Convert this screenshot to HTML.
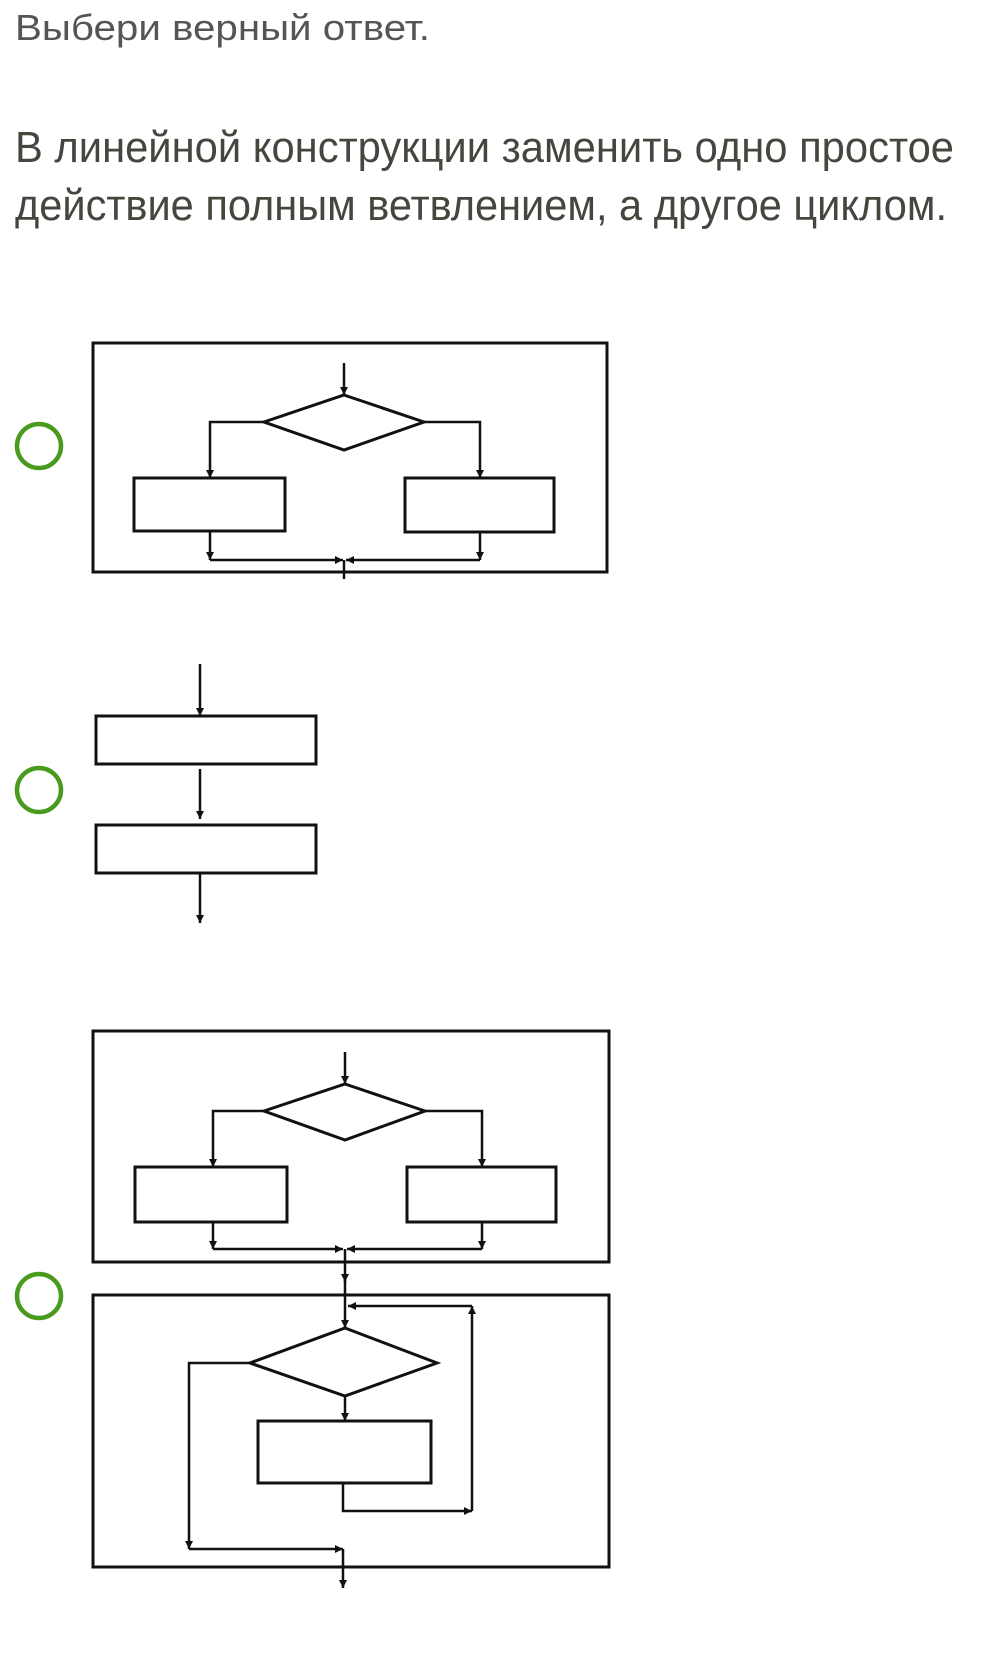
<!DOCTYPE html>
<html><head><meta charset="utf-8"><style>
html,body{margin:0;padding:0;background:#fff;}
svg{display:block;}
</style></head><body>
<svg width="982" height="1670" viewBox="0 0 982 1670" xmlns="http://www.w3.org/2000/svg">
<defs>
<marker id="a" viewBox="0 0 10 10" refX="10" refY="5" markerWidth="9" markerHeight="8" markerUnits="userSpaceOnUse" orient="auto">
<path d="M0,0 L10,5 L0,10 z" fill="#111"/>
</marker>
</defs>
<text x="15" y="40" font-family="'Liberation Sans Narrow','Liberation Sans',sans-serif" font-size="36" fill="#555" textLength="415" lengthAdjust="spacingAndGlyphs">Выбери верный ответ.</text>
<text x="15" y="162" font-family="'Liberation Sans Narrow','Liberation Sans',sans-serif" font-size="44" fill="#46463f" textLength="939" lengthAdjust="spacingAndGlyphs">В линейной конструкции заменить одно простое</text>
<text x="15" y="220" font-family="'Liberation Sans Narrow','Liberation Sans',sans-serif" font-size="44" fill="#46463f" textLength="932" lengthAdjust="spacingAndGlyphs">действие полным ветвлением, а другое циклом.</text>

<g fill="none" stroke="#4a9a1e" stroke-width="4.5">
<circle cx="39" cy="446" r="22"/>
<circle cx="39" cy="790" r="22"/>
<circle cx="39" cy="1296" r="22"/>
</g>

<g fill="none" stroke="#111" stroke-width="3">
<rect x="93" y="343" width="514" height="229"/>
<polygon points="344,395 424,422 344,450 264,422"/>
<rect x="134" y="478" width="151" height="53"/>
<rect x="405" y="478" width="149" height="54"/>
</g>
<g fill="none" stroke="#111" stroke-width="2.5">
<line x1="344" y1="363" x2="344" y2="395" marker-end="url(#a)"/>
<polyline points="264,422 210,422 210,478" marker-end="url(#a)"/>
<polyline points="424,422 480,422 480,478" marker-end="url(#a)"/>
<line x1="210" y1="531" x2="210" y2="560" marker-end="url(#a)"/>
<line x1="480" y1="532" x2="480" y2="560" marker-end="url(#a)"/>
<line x1="210" y1="560" x2="343" y2="560" marker-end="url(#a)"/>
<line x1="480" y1="560" x2="346" y2="560" marker-end="url(#a)"/>
<line x1="344" y1="560" x2="344" y2="579"/>
</g>

<g fill="none" stroke="#111" stroke-width="3">
<rect x="96" y="716" width="220" height="48"/>
<rect x="96" y="825" width="220" height="48"/>
</g>
<g fill="none" stroke="#111" stroke-width="2.5">
<line x1="200" y1="664" x2="200" y2="716" marker-end="url(#a)"/>
<line x1="200" y1="769" x2="200" y2="819" marker-end="url(#a)"/>
<line x1="200" y1="873" x2="200" y2="923" marker-end="url(#a)"/>
</g>

<g fill="none" stroke="#111" stroke-width="3">
<rect x="93" y="1031" width="516" height="231"/>
<polygon points="345,1084 425,1111 345,1140 264,1111"/>
<rect x="135" y="1167" width="152" height="55"/>
<rect x="407" y="1167" width="149" height="55"/>
<rect x="93" y="1295" width="516" height="272"/>
<polygon points="345,1328 437,1363 345,1396 250,1363"/>
<rect x="258" y="1421" width="173" height="62"/>
</g>
<g fill="none" stroke="#111" stroke-width="2.5">
<line x1="345" y1="1052" x2="345" y2="1084" marker-end="url(#a)"/>
<polyline points="264,1111 213,1111 213,1167" marker-end="url(#a)"/>
<polyline points="425,1111 482,1111 482,1167" marker-end="url(#a)"/>
<line x1="213" y1="1222" x2="213" y2="1249" marker-end="url(#a)"/>
<line x1="482" y1="1222" x2="482" y2="1249" marker-end="url(#a)"/>
<line x1="213" y1="1249" x2="343" y2="1249" marker-end="url(#a)"/>
<line x1="482" y1="1249" x2="347" y2="1249" marker-end="url(#a)"/>
<line x1="345" y1="1249" x2="345" y2="1282" marker-end="url(#a)"/>
<line x1="345" y1="1280" x2="345" y2="1328" marker-end="url(#a)"/>
<polyline points="472,1306 348,1306" marker-end="url(#a)"/>
<line x1="345" y1="1396" x2="345" y2="1421" marker-end="url(#a)"/>
<polyline points="343,1483 343,1511 472,1511" marker-end="url(#a)"/>
<line x1="472" y1="1511" x2="472" y2="1306" marker-end="url(#a)"/>
<polyline points="250,1363 189,1363 189,1549" marker-end="url(#a)"/>
<line x1="189" y1="1549" x2="343" y2="1549" marker-end="url(#a)"/>
<line x1="343" y1="1549" x2="343" y2="1588" marker-end="url(#a)"/>
</g>
</svg>
</body></html>
